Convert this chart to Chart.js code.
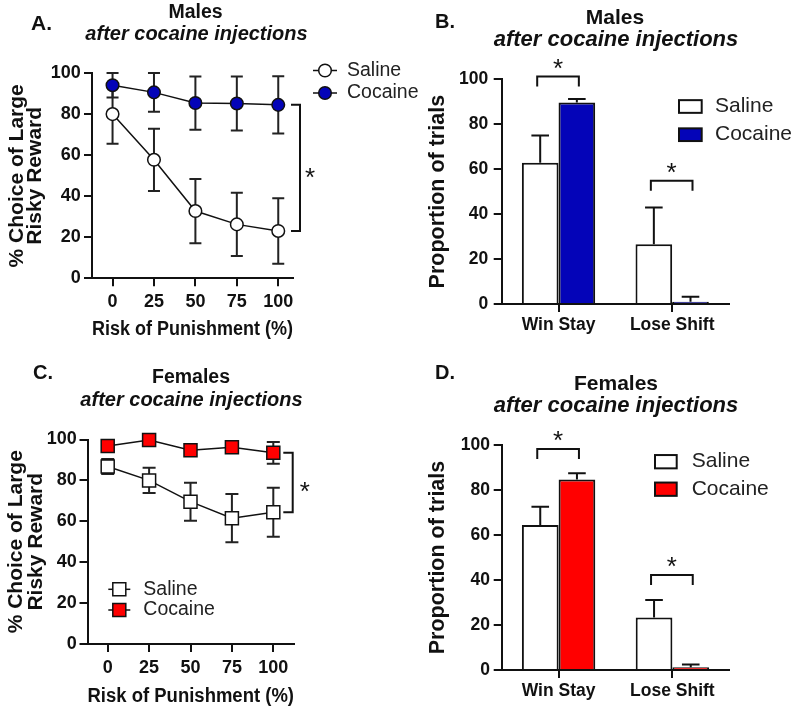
<!DOCTYPE html>
<html><head><meta charset="utf-8">
<script src="https://cdn.jsdelivr.net/npm/chart.js@4.4.1/dist/chart.umd.min.js"></script>
<style>
body{margin:0;background:#fff;}
#wrap{position:relative;width:796px;height:710px;overflow:hidden;font-family:'Liberation Sans',Arial,sans-serif;color:#111;background:#fff;}
canvas{position:absolute;}
.t{position:absolute;white-space:nowrap;line-height:1;font-weight:bold;transform:translate(-50%,-50%);}
.pl{position:absolute;white-space:nowrap;line-height:1;font-weight:bold;transform:translate(0,-50%);}
.i{font-style:italic;}
</style></head>
<body><div id="wrap">
<canvas id="cB" width="396" height="350" style="left:400px;top:0"></canvas>
<canvas id="cA" width="430" height="350" style="left:0;top:0"></canvas>
<canvas id="cC" width="400" height="360" style="left:0;top:350px"></canvas>
<canvas id="cD" width="396" height="360" style="left:400px;top:350px"></canvas>
<div class="pl" style="left:31px;top:22px;font-size:21px">A.</div>
<div class="t" style="left:195.5px;top:11.5px;font-size:19.5px">Males</div>
<div class="t i" style="left:196.5px;top:32.5px;font-size:20px">after cocaine injections</div>
<div class="pl" style="left:435px;top:21px;font-size:20px">B.</div>
<div class="t" style="left:615px;top:15.5px;font-size:21px">Males</div>
<div class="t i" style="left:616px;top:39px;font-size:22px">after cocaine injections</div>
<div class="pl" style="left:33px;top:372px;font-size:20px">C.</div>
<div class="t" style="left:191px;top:377px;font-size:19.5px">Females</div>
<div class="t i" style="left:191.5px;top:399px;font-size:20px">after cocaine injections</div>
<div class="pl" style="left:435px;top:372px;font-size:20px">D.</div>
<div class="t" style="left:616px;top:381.5px;font-size:21px">Females</div>
<div class="t i" style="left:616px;top:405px;font-size:22px">after cocaine injections</div>
</div>
<script>
// ---------------- DATA ----------------
const riskLevels = [0, 25, 50, 75, 100];
const riskTickLabels = ['0', '25', '50', '75', '100'];
const percentTicks = [0, 20, 40, 60, 80, 100];
const seriesNames = ['Saline', 'Cocaine'];

// Panel A: males, % choice of large risky reward (mean, +/- error)
const maleSaline     = [80.1, 57.8, 32.8, 26.3, 23.1];
const maleSalineErr  = [14.5, 15.2, 15.7, 15.4, 16.0];
const maleCocaine    = [94.2, 90.7, 85.5, 85.3, 84.6];
const maleCocaineErr = [6.0, 9.5, 13.0, 13.2, 14.0];

// Panel C: females
const femaleSaline     = [86.8, 80.0, 69.6, 61.5, 64.4];
const femaleSalineErr  = [3.7, 6.2, 9.3, 11.8, 12.0];
const femaleCocaine    = [96.8, 99.8, 94.7, 96.2, 93.5];
const femaleCocaineErr = [2.5, 1.0, 2.0, 2.0, 5.3];

// Panels B & D: win-stay / lose-shift (mean, upper error)
const strategyCategories = ['Win Stay', 'Lose Shift'];
const maleBarSaline      = [62.9, 26.6];
const maleBarSalineErr   = [12.1, 16.4];
const maleBarCocaine     = [89.7, 1.0];
const maleBarCocaineErr  = [1.5, 2.2];
const femaleBarSaline     = [64.4, 23.3];
const femaleBarSalineErr  = [8.2, 7.8];
const femaleBarCocaine    = [84.7, 1.2];
const femaleBarCocaineErr = [2.7, 1.3];

// significance bracket levels (value units)
const maleBracketLevels   = [101.2, 54.9];
const femaleBracketLevels = [98.2, 42.2];

// ---------------- STYLE ----------------
const FONT = "'Liberation Sans', Arial, Helvetica, sans-serif";
const INK = '#111';
const BLUE = '#0404b8';
const RED = '#ff0000';

function pts(xs, ys) { return xs.map((x, i) => ({ x: x, y: ys[i] })); }

// ---------------- PLUGINS ----------------
function drawErrors(chart, o) {
  const ctx = chart.ctx, y = chart.scales.y;
  ctx.save();
  ctx.strokeStyle = o.color; ctx.lineWidth = o.width; ctx.lineCap = 'butt';
  o.errs.forEach((errs, di) => {
    if (!errs) return;
    const meta = chart.getDatasetMeta(di);
    const ds = chart.data.datasets[di];
    meta.data.forEach((el, j) => {
      const d = ds.data[j];
      const v = (typeof d === 'object') ? d.y : d;
      const x = el.x;
      const yt = y.getPixelForValue(v + errs[j]);
      const yb = o.both ? y.getPixelForValue(v - errs[j]) : y.getPixelForValue(v);
      const c = o.cap / 2;
      ctx.beginPath();
      ctx.moveTo(x, yt); ctx.lineTo(x, yb);
      ctx.moveTo(x - c, yt); ctx.lineTo(x + c, yt);
      if (o.both) { ctx.moveTo(x - c, yb); ctx.lineTo(x + c, yb); }
      ctx.stroke();
    });
  });
  ctx.restore();
}
const errorBars = {
  id: 'errorBars',
  beforeDatasetsDraw(chart, a, o) { if (o.under) drawErrors(chart, o); },
  afterDatasetsDraw(chart, a, o) { if (!o.under) drawErrors(chart, o); }
};

function drawStar(ctx, x, cy, size) {
  ctx.save();
  ctx.fillStyle = INK;
  ctx.font = size + 'px ' + FONT;
  ctx.textAlign = 'center';
  ctx.textBaseline = 'alphabetic';
  ctx.fillText('*', x, cy + size * 0.58);
  ctx.restore();
}

const sideBracket = {
  id: 'sideBracket',
  afterDatasetsDraw(chart, a, o) {
    const ctx = chart.ctx, y = chart.scales.y, ca = chart.chartArea;
    const x = ca.right + o.dx;
    const y1 = y.getPixelForValue(o.top), y2 = y.getPixelForValue(o.bottom);
    ctx.save();
    ctx.strokeStyle = INK; ctx.lineWidth = 2;
    ctx.beginPath();
    ctx.moveTo(x - o.tick, y1); ctx.lineTo(x, y1); ctx.lineTo(x, y2); ctx.lineTo(x - o.tick, y2);
    ctx.stroke();
    ctx.restore();
    drawStar(ctx, x + o.starDx, (y1 + y2) / 2 + o.starDy, o.starSize);
  }
};

const barBrackets = {
  id: 'barBrackets',
  afterDatasetsDraw(chart, a, o) {
    const ctx = chart.ctx, y = chart.scales.y;
    const m0 = chart.getDatasetMeta(0), m1 = chart.getDatasetMeta(1);
    o.levels.forEach((lv, i) => {
      const xl = m0.data[i].x - 3, xr = m1.data[i].x + 2;
      const yy = y.getPixelForValue(lv);
      ctx.save();
      ctx.strokeStyle = INK; ctx.lineWidth = 2;
      ctx.beginPath();
      ctx.moveTo(xl, yy + o.drop); ctx.lineTo(xl, yy); ctx.lineTo(xr, yy); ctx.lineTo(xr, yy + o.drop);
      ctx.stroke();
      ctx.restore();
      drawStar(ctx, (xl + xr) / 2, yy - o.starUp, o.starSize);
    });
  }
};

const customLegend = {
  id: 'customLegend',
  afterDraw(chart, a, o) {
    const ctx = chart.ctx;
    chart.data.datasets.forEach((ds, i) => {
      const it = o.items[i];
      ctx.save();
      ctx.strokeStyle = INK; ctx.lineWidth = 1.5;
      if (o.kind === 'box') {
        ctx.fillStyle = ds.backgroundColor;
        ctx.lineWidth = 2;
        ctx.fillRect(o.boxX, it.y - o.boxH / 2, o.boxW, o.boxH);
        ctx.strokeRect(o.boxX, it.y - o.boxH / 2, o.boxW, o.boxH);
      } else {
        ctx.beginPath();
        ctx.moveTo(o.markX - o.lineHalf, it.y); ctx.lineTo(o.markX + o.lineHalf, it.y);
        ctx.stroke();
        ctx.fillStyle = ds.pointBackgroundColor;
        ctx.beginPath();
        if (o.kind === 'circle') {
          ctx.arc(o.markX, it.y, o.markR, 0, Math.PI * 2);
        } else {
          ctx.rect(o.markX - o.markR, it.y - o.markR, o.markR * 2, o.markR * 2);
        }
        ctx.fill(); ctx.stroke();
      }
      ctx.fillStyle = '#222';
      ctx.font = o.fontSize + 'px ' + FONT;
      ctx.textAlign = 'left'; ctx.textBaseline = 'middle';
      ctx.fillText(ds.label, o.textX, it.y);
      ctx.restore();
    });
  }
};

// ---------------- AXIS BUILDERS ----------------
function yAxis(p) {
  return {
    min: 0, max: 100,
    afterBuildTicks: s => { s.ticks = percentTicks.map(v => ({ value: v })); },
    ticks: { color: INK, padding: p.tickPad, font: { family: FONT, size: p.tickSize, weight: 'bold' } },
    grid: { display: true, drawOnChartArea: false, drawTicks: true, tickLength: 8, color: INK, lineWidth: 2 },
    border: { display: true, color: INK, width: 2 },
    title: { display: true, text: p.title, color: INK,
      font: { family: FONT, size: p.titleSize, weight: 'bold', lineHeight: p.titleLH },
      padding: { top: p.titlePad, bottom: 0 } },
    afterFit: s => { s.width = p.width; }
  };
}
function xRisk(p) {
  return {
    type: 'linear', min: p.min, max: p.max,
    afterBuildTicks: s => { s.ticks = riskLevels.map(v => ({ value: v })); },
    ticks: { color: INK, padding: p.tickPad, maxRotation: 0, autoSkip: false,
      callback: (v, i) => riskTickLabels[i],
      font: { family: FONT, size: 18, weight: 'bold' } },
    grid: { display: true, drawOnChartArea: false, drawTicks: true, tickLength: 8, color: INK, lineWidth: 2 },
    border: { display: true, color: INK, width: 2 },
    title: { display: true, text: 'Risk of Punishment (%)', color: INK,
      font: { family: FONT, size: 19.5, weight: 'bold', lineHeight: 1.2 },
      padding: { top: 0, bottom: p.titlePad } },
    afterFit: s => { s.height = p.height; }
  };
}
function xCat(p) {
  return {
    type: 'category', offset: true,
    ticks: { color: INK, padding: p.tickPad, maxRotation: 0, autoSkip: false,
      font: { family: FONT, size: 17.5, weight: 'bold' } },
    grid: { display: true, drawOnChartArea: false, drawTicks: true, offset: false, tickLength: 8, color: INK, lineWidth: 2 },
    border: { display: true, color: INK, width: 2 },
    afterFit: s => { s.height = p.height; }
  };
}
function lineDs(label, ys, style, fill, radius) {
  return {
    label: label, data: pts(riskLevels, ys),
    borderColor: INK, borderWidth: 1.5, tension: 0, clip: false,
    pointStyle: style, pointRadius: radius, pointBackgroundColor: fill,
    pointBorderColor: INK, pointBorderWidth: 1.5
  };
}
function barDs(label, ys, fill) {
  return {
    label: label, data: ys, backgroundColor: fill, borderColor: INK, borderWidth: 2,
    barPercentage: 1, categoryPercentage: 0.645
  };
}
const base = { responsive: false, animation: false, devicePixelRatio: 1, events: [] };

// ---------------- PANEL A ----------------
new Chart(document.getElementById('cA'), {
  type: 'line',
  data: { datasets: [
    lineDs(seriesNames[0], maleSaline, 'circle', '#fff', 6.3),
    lineDs(seriesNames[1], maleCocaine, 'circle', BLUE, 6.3)
  ] },
  options: Object.assign({}, base, {
    layout: { padding: { left: 0, top: 73.3, right: 137, bottom: 0 } },
    scales: {
      x: xRisk({ min: -12.4, max: 108.9, tickPad: 4.6, titlePad: 8.3, height: 71.7 }),
      y: yAxis({ title: ['% Choice of Large', 'Risky Reward'], titleSize: 21, titleLH: 0.9, titlePad: 7.3, tickSize: 18, tickPad: 3.3, width: 92 })
    },
    plugins: {
      legend: { display: false }, tooltip: { enabled: false },
      errorBars: { errs: [maleSalineErr, maleCocaineErr], both: true, cap: 12, width: 2, color: '#222', under: true },
      sideBracket: { top: maleCocaine[4], bottom: maleSaline[4], dx: 7, tick: 9, starDx: 10, starDy: 3, starSize: 26 },
      customLegend: { kind: 'circle', markX: 325, markR: 6.3, lineHalf: 12, textX: 347, fontSize: 19.5, items: [{ y: 70.5 }, { y: 93 }] }
    }
  }),
  plugins: [errorBars, sideBracket, customLegend]
});

// ---------------- PANEL B ----------------
new Chart(document.getElementById('cB'), {
  type: 'bar',
  data: { labels: strategyCategories, datasets: [
    barDs(seriesNames[0], maleBarSaline, '#fff'),
    barDs(seriesNames[1], maleBarCocaine, BLUE)
  ] },
  options: Object.assign({}, base, {
    layout: { padding: { left: 0, top: 79.3, right: 67, bottom: 0 } },
    scales: {
      x: xCat({ tickPad: 3, height: 46 }),
      y: yAxis({ title: 'Proportion of trials', titleSize: 21.5, titleLH: 1.2, titlePad: 25.4, tickSize: 17.5, tickPad: 5.4, width: 101.7 })
    },
    plugins: {
      legend: { display: false }, tooltip: { enabled: false },
      errorBars: { errs: [maleBarSalineErr, maleBarCocaineErr], both: false, cap: 17.6, width: 2, color: INK, under: false },
      barBrackets: { levels: maleBracketLevels, drop: 10, starUp: 15, starSize: 26 },
      customLegend: { kind: 'box', boxX: 279, boxW: 22.7, boxH: 12.7, textX: 315, fontSize: 21, items: [{ y: 106.5 }, { y: 134.7 }] }
    }
  }),
  plugins: [errorBars, barBrackets, customLegend]
});

// ---------------- PANEL C ----------------
new Chart(document.getElementById('cC'), {
  type: 'line',
  data: { datasets: [
    lineDs(seriesNames[0], femaleSaline, 'rect', '#fff', 9.2),
    lineDs(seriesNames[1], femaleCocaine, 'rect', RED, 9.2)
  ] },
  options: Object.assign({}, base, {
    layout: { padding: { left: 0, top: 89.5, right: 106, bottom: 0 } },
    scales: {
      x: xRisk({ min: -12.2, max: 112.5, tickPad: 5.5, titlePad: 2, height: 66 }),
      y: yAxis({ title: ['% Choice of Large', 'Risky Reward'], titleSize: 21, titleLH: 0.95, titlePad: 6, tickSize: 18, tickPad: 2.8, width: 87.5 })
    },
    plugins: {
      legend: { display: false }, tooltip: { enabled: false },
      errorBars: { errs: [femaleSalineErr, femaleCocaineErr], both: true, cap: 13, width: 2, color: '#222', under: true },
      sideBracket: { top: femaleCocaine[4], bottom: femaleSaline[4], dx: -1.3, tick: 9.4, starDx: 12, starDy: 2, starSize: 26 },
      customLegend: { kind: 'rect', markX: 119.3, markR: 6.5, lineHalf: 11, textX: 143.3, fontSize: 19.5, items: [{ y: 239.3 }, { y: 260 }] }
    }
  }),
  plugins: [errorBars, sideBracket, customLegend]
});

// ---------------- PANEL D ----------------
new Chart(document.getElementById('cD'), {
  type: 'bar',
  data: { labels: strategyCategories, datasets: [
    barDs(seriesNames[0], femaleBarSaline, '#fff'),
    barDs(seriesNames[1], femaleBarCocaine, RED)
  ] },
  options: Object.assign({}, base, {
    layout: { padding: { left: 0, top: 95, right: 66.7, bottom: 0 } },
    scales: {
      x: xCat({ tickPad: 2.7, height: 40 }),
      y: yAxis({ title: 'Proportion of trials', titleSize: 21.5, titleLH: 1.2, titlePad: 25.4, tickSize: 17.5, tickPad: 3.7, width: 101.7 })
    },
    plugins: {
      legend: { display: false }, tooltip: { enabled: false },
      errorBars: { errs: [femaleBarSalineErr, femaleBarCocaineErr], both: false, cap: 17.6, width: 2, color: INK, under: false },
      barBrackets: { levels: femaleBracketLevels, drop: 10, starUp: 15, starSize: 26 },
      customLegend: { kind: 'box', boxX: 255, boxW: 21.7, boxH: 13.3, textX: 291.7, fontSize: 21, items: [{ y: 111.7 }, { y: 139.2 }] }
    }
  }),
  plugins: [errorBars, barBrackets, customLegend]
});
</script>
</body></html>
